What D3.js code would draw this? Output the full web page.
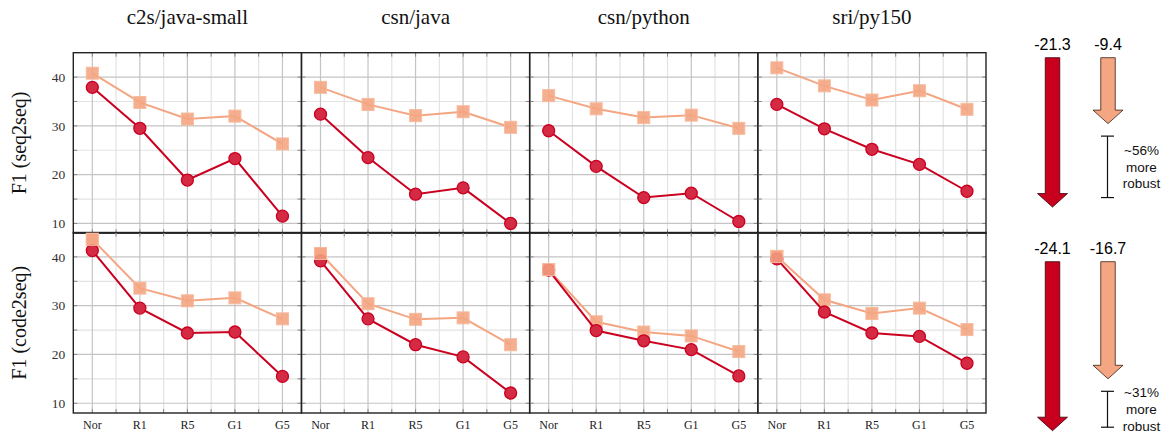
<!DOCTYPE html>
<html>
<head>
<meta charset="utf-8">
<script src="https://cdn.jsdelivr.net/npm/d3@7"></script>
<style>
  html, body { margin: 0; padding: 0; background: #fff; }
  svg { display: block; }
</style>
</head>
<body>
<svg id="chart" width="1166" height="439"></svg>
<script>
// ---------------- data ----------------
const datasets = ["c2s/java-small", "csn/java", "csn/python", "sri/py150"];
const rowLabels = ["F1 (seq2seq)", "F1 (code2seq)"];
const categories = ["Nor", "R1", "R5", "G1", "G5"];
const yTicks = [10, 20, 30, 40];

// seq2seq row: baseline (red circles) and robust (salmon squares)
const seq2seqBase = [
  [37.9, 29.5, 18.9, 23.3, 11.5],
  [32.4, 23.5, 16.0, 17.3, 10.0],
  [29.0, 21.7, 15.3, 16.2, 10.4],
  [34.4, 29.4, 25.2, 22.1, 16.6]
];
const seq2seqRobust = [
  [40.8, 34.8, 31.4, 32.0, 26.3],
  [37.9, 34.4, 32.1, 32.9, 29.7],
  [36.2, 33.5, 31.7, 32.2, 29.5],
  [41.9, 38.2, 35.3, 37.2, 33.4]
];
// code2seq row
const code2seqBase = [
  [41.3, 29.5, 24.4, 24.6, 15.5],
  [39.2, 27.3, 22.0, 19.5, 12.1],
  [37.3, 24.9, 22.8, 21.0, 15.6],
  [39.6, 28.7, 24.4, 23.7, 18.2]
];
const code2seqRobust = [
  [43.6, 33.6, 31.0, 31.6, 27.3],
  [40.7, 30.4, 27.2, 27.5, 22.0],
  [37.4, 26.7, 24.6, 23.8, 20.6],
  [40.1, 31.2, 28.4, 29.5, 25.1]
];

// summary drops (arrows)
const dropBase = [21.3, 24.1];
const dropRobust = [9.4, 16.7];
const robustText = ["~56%", "~31%"];

// ---------------- layout ----------------
const svg = d3.select("#chart");
const plotLeft = 73.3, plotRight = 986;
const rowTops = [52.7, 232.5];
const rowH = 180.5;
const colW = (plotRight - plotLeft) / datasets.length;

const RED = "#ca0020", SALMON = "#f4a582";
const serif = "'Liberation Serif', 'Times New Roman', serif";
const sans = "'Liberation Sans', Arial, sans-serif";

const x = d3.scaleLinear().domain([-0.4, 4.4]).range([0, colW]);
const y = d3.scaleLinear().domain([8, 45]).range([rowH, 0]);

const rows = [
  { base: seq2seqBase, robust: seq2seqRobust },
  { base: code2seqBase, robust: code2seqRobust }
];

const line = d3.line().x((d, i) => x(i)).y(d => y(d));

rows.forEach((row, r) => {
  datasets.forEach((ds, c) => {
    const g = svg.append("g")
      .attr("transform", `translate(${plotLeft + c * colW},${rowTops[r]})`);

    // minor grid
    const minorY = d3.range(10, 45, 5).filter(v => v % 10 !== 0);
    g.selectAll(".gyminor").data(minorY).join("line")
      .attr("x1", 0).attr("x2", colW)
      .attr("y1", d => y(d)).attr("y2", d => y(d))
      .attr("stroke", "#e3e3e3").attr("stroke-width", 1.2);
    const minorX = [-0.5, 0.5, 1.5, 2.5, 3.5].filter(v => v > -0.4);
    g.selectAll(".gxminor").data(minorX).join("line")
      .attr("x1", d => x(d)).attr("x2", d => x(d))
      .attr("y1", 0).attr("y2", rowH)
      .attr("stroke", "#e3e3e3").attr("stroke-width", 1.2);
    // major grid
    g.selectAll(".gymajor").data(yTicks).join("line")
      .attr("x1", 0).attr("x2", colW)
      .attr("y1", d => y(d)).attr("y2", d => y(d))
      .attr("stroke", "#c4c4c4").attr("stroke-width", 1.2);
    g.selectAll(".gxmajor").data(categories).join("line")
      .attr("x1", (d, i) => x(i)).attr("x2", (d, i) => x(i))
      .attr("y1", 0).attr("y2", rowH)
      .attr("stroke", "#c4c4c4").attr("stroke-width", 1.2);

    // tick marks (inward)
    const tk = 4;
    g.selectAll(".tyl").data(d3.range(10, 45, 5)).join("line")
      .attr("x1", 0).attr("x2", tk).attr("y1", d => y(d)).attr("y2", d => y(d))
      .attr("stroke", "#888").attr("stroke-width", 1);
    g.selectAll(".tyr").data(d3.range(10, 45, 5)).join("line")
      .attr("x1", colW - tk).attr("x2", colW).attr("y1", d => y(d)).attr("y2", d => y(d))
      .attr("stroke", "#888").attr("stroke-width", 1);
    const allX = [0, 0.5, 1, 1.5, 2, 2.5, 3, 3.5, 4];
    g.selectAll(".txb").data(allX).join("line")
      .attr("x1", d => x(d)).attr("x2", d => x(d)).attr("y1", rowH - tk).attr("y2", rowH)
      .attr("stroke", "#888").attr("stroke-width", 1);
    g.selectAll(".txt").data(allX).join("line")
      .attr("x1", d => x(d)).attr("x2", d => x(d)).attr("y1", 0).attr("y2", tk)
      .attr("stroke", "#888").attr("stroke-width", 1);

    // frame
    g.append("rect").attr("x", 0).attr("y", 0).attr("width", colW).attr("height", rowH)
      .attr("fill", "none").attr("stroke", "#222").attr("stroke-width", 1.4);

    // robust series (salmon squares)
    const rob = row.robust[c];
    g.append("path").datum(rob).attr("d", line)
      .attr("fill", "none").attr("stroke", SALMON).attr("stroke-width", 2);
    const sq = 12;
    g.selectAll(".sq").data(rob).join("rect")
      .attr("x", (d, i) => x(i) - sq / 2).attr("y", d => y(d) - sq / 2)
      .attr("width", sq).attr("height", sq)
      .attr("fill", SALMON).attr("fill-opacity", 0.9)
      .attr("stroke", "#f7bb9e").attr("stroke-width", 1);

    // base series (red circles)
    const base = row.base[c];
    g.append("path").datum(base).attr("d", line)
      .attr("fill", "none").attr("stroke", RED).attr("stroke-width", 2);
    g.selectAll(".ci").data(base).join("circle")
      .attr("cx", (d, i) => x(i)).attr("cy", d => y(d)).attr("r", 6)
      .attr("fill", "#d42a44").attr("stroke", RED).attr("stroke-width", 1.3);

    // redraw robust on top where Nor overlaps (as in reference, squares above)
    g.selectAll(".sq2").data(rob.slice(0, 1)).join("rect")
      .attr("x", (d, i) => x(i) - sq / 2).attr("y", d => y(d) - sq / 2)
      .attr("width", sq).attr("height", sq)
      .attr("fill", SALMON).attr("fill-opacity", 0.85)
      .attr("stroke", "#f7bb9e").attr("stroke-width", 1)
      .attr("opacity", r === 1 ? 1 : 0);

    // y axis labels (first column)
    if (c === 0) {
      g.selectAll(".yl").data(yTicks).join("text")
        .attr("x", -8).attr("y", d => y(d)).attr("dy", "0.35em")
        .attr("text-anchor", "end")
        .attr("font-family", serif).attr("font-size", 13.5).attr("fill", "#333")
        .text(d => d);
    }
    // x axis labels (bottom row)
    if (r === 1) {
      g.selectAll(".xl").data(categories).join("text")
        .attr("x", (d, i) => x(i)).attr("y", rowH + 16)
        .attr("text-anchor", "middle")
        .attr("font-family", serif).attr("font-size", 12).attr("fill", "#222")
        .text(d => d);
    }
    // titles
    if (r === 0) {
      svg.append("text")
        .attr("x", plotLeft + c * colW + colW / 2).attr("y", 24)
        .attr("text-anchor", "middle")
        .attr("font-family", serif).attr("font-size", 21).attr("fill", "#111")
        .text(ds);
    }
  });

  // row label
  svg.append("text")
    .attr("transform", `translate(26,${rowTops[r] + rowH / 2}) rotate(-90)`)
    .attr("text-anchor", "middle")
    .attr("font-family", serif).attr("font-size", 20).attr("fill", "#111")
    .text(rowLabels[r]);
});

// ---------------- arrows ----------------
const arrowLen = d3.scaleLinear().domain([0, 24.1]).range([0, 169]);
const arrowTop = [57.7, 261.7];
const redX = 1052.5, salX = 1108;
const shaftW = 14.5, headW = 30, headH = 13.5;

function arrowPath(cx, top, len) {
  const tip = top + len;
  const hs = tip - headH;
  return `M${cx - shaftW / 2},${top} L${cx + shaftW / 2},${top} L${cx + shaftW / 2},${hs} ` +
    `L${cx + headW / 2},${hs} L${cx},${tip} L${cx - headW / 2},${hs} L${cx - shaftW / 2},${hs} Z`;
}

[0, 1].forEach(i => {
  const top = arrowTop[i];
  const redTip = top + arrowLen(dropBase[i]);
  const salTip = top + arrowLen(dropRobust[i]);

  svg.append("path").attr("d", arrowPath(redX, top, arrowLen(dropBase[i])))
    .attr("fill", "#c8001e").attr("stroke", "#3a0008").attr("stroke-width", 0.8);
  svg.append("path").attr("d", arrowPath(salX, top, arrowLen(dropRobust[i])))
    .attr("fill", SALMON).attr("stroke", "#3a2010").attr("stroke-width", 0.8);

  svg.append("text").attr("x", redX).attr("y", top - 8)
    .attr("text-anchor", "middle").attr("font-family", sans).attr("font-size", 16).attr("fill", "#000")
    .text("-" + dropBase[i]);
  svg.append("text").attr("x", salX).attr("y", top - 8)
    .attr("text-anchor", "middle").attr("font-family", sans).attr("font-size", 16).attr("fill", "#000")
    .text("-" + dropRobust[i]);

  // bracket
  const bTop = salTip + 12.5;
  const bBot = i === 0 ? redTip - 9.5 : redTip - 3.5;
  const bx = salX - 0.5;
  const bg = svg.append("g").attr("stroke", "#111").attr("stroke-width", 1.2);
  bg.append("line").attr("x1", bx).attr("x2", bx).attr("y1", bTop).attr("y2", bBot);
  bg.append("line").attr("x1", bx - 6.5).attr("x2", bx + 6.5).attr("y1", bTop).attr("y2", bTop);
  bg.append("line").attr("x1", bx - 6.5).attr("x2", bx + 6.5).attr("y1", bBot).attr("y2", bBot);

  const mid = (bTop + bBot) / 2;
  const lines = [robustText[i], "more", "robust"];
  const lh = 16.6;
  lines.forEach((t, k) => {
    svg.append("text").attr("x", 1141.5).attr("y", mid + (k - 1) * lh)
      .attr("dy", "0.35em")
      .attr("text-anchor", "middle").attr("font-family", sans).attr("font-size", 13.5).attr("fill", "#111")
      .text(t);
  });
});
</script>
</body>
</html>
